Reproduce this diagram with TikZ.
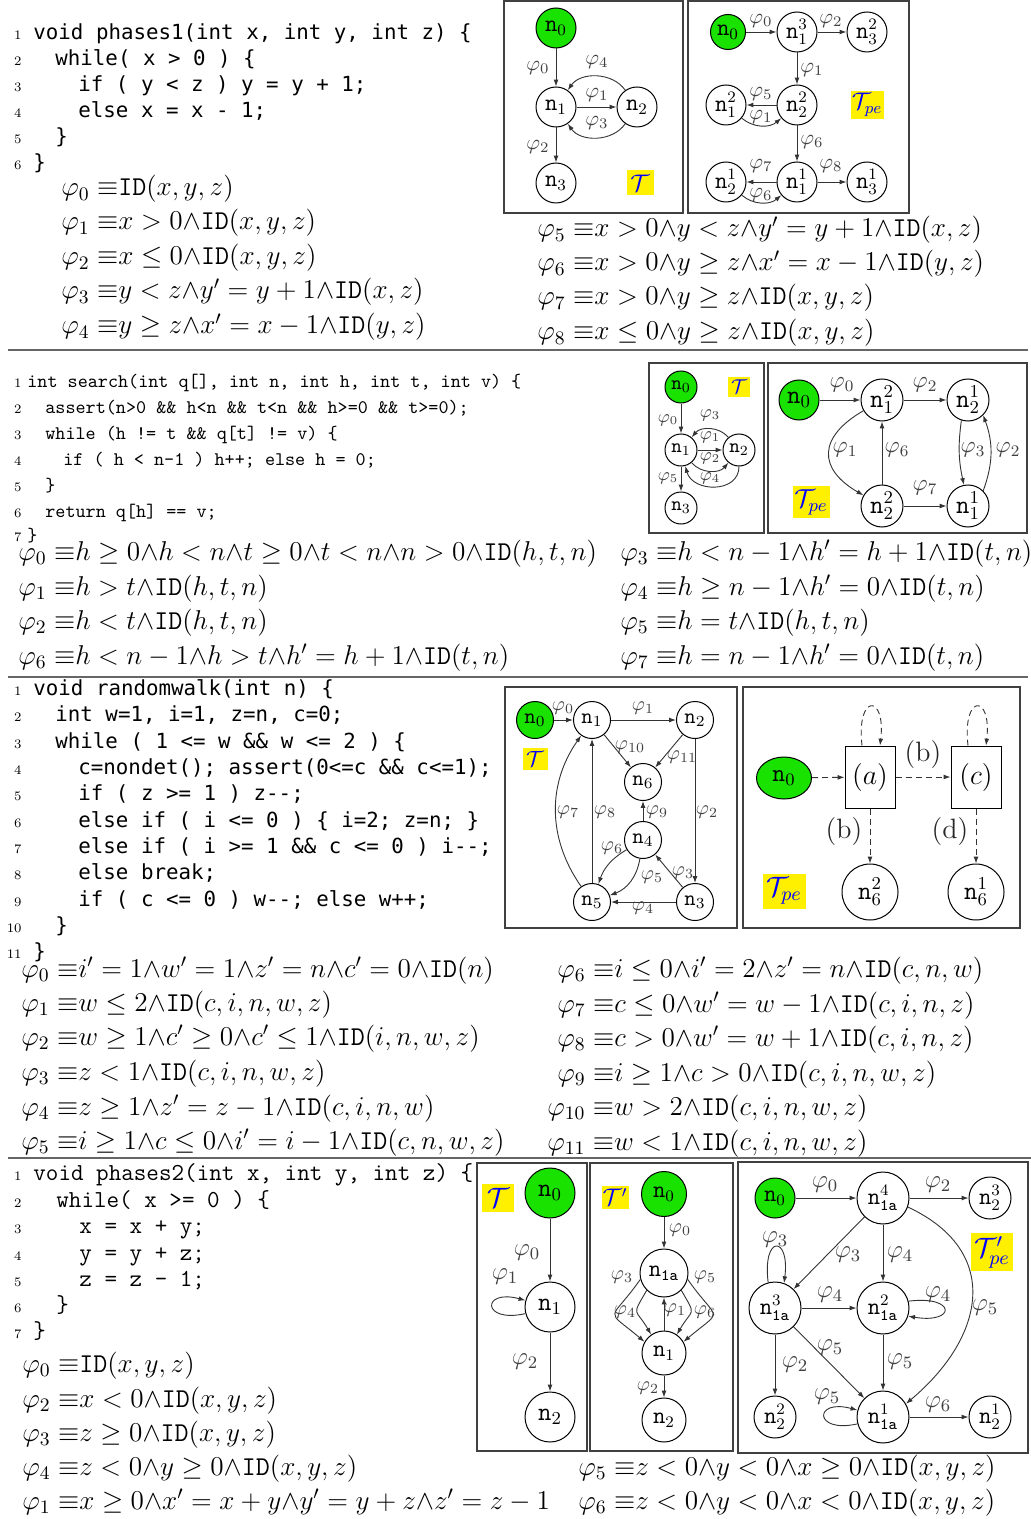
\RequirePackage{fix-cm}
\documentclass[tikz,border=0pt]{standalone}
\usepackage{amsmath}
\usepackage{fontspec}
\usetikzlibrary{arrows.meta,shapes.geometric}
\newfontfamily\dvmono{DejaVu Sans Mono}
\definecolor{ngreen}{RGB}{25,225,0}
\definecolor{lyellow}{RGB}{255,240,0}
\newcommand\myeq{\;{\equiv}}
\newcommand\myand{{\wedge}}
\newcommand\nn[1]{\mathtt{n}_{#1}}
\newcommand\nnn[2]{\mathtt{n}^{#1}_{#2}}
\newcommand\ph[1]{\varphi_{#1}}
\newcommand\IDf{\mathtt{ID}}
\newcommand\cdl[4]{\node[lnum] (ln#2) at (22,#2) {#3}; \node[code] (cl#2) at (#1,#2) {#4};}
\newcommand\fmla[3]{\node[fml] (f#1-#2) at (#1,#2) {$#3$};}
\newcommand\elab[4]{\node[el] (#1) at (#2,#3) {$#4$};}
\tikzset{
  st/.style={circle,draw,line width=0.5pt,inner sep=0pt},
  gf/.style={fill=ngreen},
  tlab/.style={rectangle,fill=lyellow,text=blue,inner sep=0pt},
  el/.style={text=black!75,inner sep=0pt},
  ar/.style={-{Latex[length=3.4pt,width=2.4pt]},line width=0.45pt,draw=black!80},
  dar/.style={ar,dash pattern=on 3pt off 2pt},
  boxfr/.style={draw=black!75,line width=1pt},
  seprule/.style={draw=black!60,line width=1pt},
  lnum/.style={anchor=base east,inner sep=0pt,font=\fontsize{6.5}{7}\selectfont},
  code/.style={anchor=base west,inner sep=0pt},
  fml/.style={anchor=base west,inner sep=0pt,font=\fontsize{13.6}{16}\selectfont},
}
\begin{document}
\begin{tikzpicture}[x=0.5pt,y=-0.5pt]
\fill[white] (0,0) rectangle (1031,1519);
\useasboundingbox (0,0) rectangle (1031,1519);

% separators
\draw[seprule] (8,350) -- (1028,350);
\draw[seprule] (8,677) -- (1028,677);
\draw[seprule] (8,1158) -- (1031,1158);

%================ SECTION 1 =================
\begin{scope}[code/.append style={font=\dvmono\fontsize{10.4}{12}\selectfont}]
\cdl{33}{40}{1}{void phases1(int x, int y, int z) \{}
\cdl{55}{66}{2}{while( x > 0 ) \{}
\cdl{78}{92}{3}{if ( y < z ) y = y + 1;}
\cdl{78}{118}{4}{else x = x - 1;}
\cdl{55}{144}{5}{\}}
\cdl{33}{170}{6}{\}}
\end{scope}
\fmla{61}{196}{\ph0\myeq\IDf(x,y,z)}
\fmla{61}{230}{\ph1\myeq x>0\myand\IDf(x,y,z)}
\fmla{61}{265}{\ph2\myeq x\le 0\myand\IDf(x,y,z)}
\fmla{61}{299}{\ph3\myeq y<z\myand y'=y+1\myand\IDf(x,z)}
\fmla{61}{334}{\ph4\myeq y\ge z\myand x'=x-1\myand\IDf(y,z)}
\fmla{537}{237}{\ph5\myeq x>0\myand y<z\myand y'=y+1\myand\IDf(x,z)}
\fmla{537}{271}{\ph6\myeq x>0\myand y\ge z\myand x'=x-1\myand\IDf(y,z)}
\fmla{537}{305}{\ph7\myeq x>0\myand y\ge z\myand\IDf(x,y,z)}
\fmla{537}{340}{\ph8\myeq x\le 0\myand y\ge z\myand\IDf(x,y,z)}

% S1 T
\begin{scope}[st/.append style={minimum size=20pt,font=\fontsize{12}{14}\selectfont},
  el/.append style={font=\fontsize{10.5}{12}\selectfont}]
\draw[boxfr] (504,1) rectangle (683,213);
\node[st,gf] (a0) at (556,28) {$\nn0$};
\node[st] (a1) at (556,107) {$\nn1$};
\node[st] (a2) at (637,107) {$\nn2$};
\node[st] (a3) at (556,183) {$\nn3$};
\node[tlab,minimum width=13.5pt,minimum height=12.5pt,font=\fontsize{12}{14}\selectfont] (aT) at (640,183) {$\mathcal{T}$};
\draw[ar] (a0)--(a1);
\draw[ar] (a1)--(a2);
\draw[ar] (a2) to[bend right=55] (a1);
\draw[ar] (a2) to[bend left=55] (a1);
\draw[ar] (a1)--(a3);
\elab{la0}{538}{68}{\ph0}
\elab{la4}{597}{62}{\ph4}
\elab{la1}{597}{95}{\ph1}
\elab{la3}{597}{123}{\ph3}
\elab{la2}{538}{147}{\ph2}
\end{scope}

% S1 Tpe
\begin{scope}[st/.append style={minimum size=20pt,font=\fontsize{12}{14}\selectfont},
  el/.append style={font=\fontsize{10.5}{12}\selectfont}]
\draw[boxfr] (688,1) rectangle (909,213);
\node[st,gf,minimum size=17.5pt] (b0) at (728,32) {$\nn0$};
\node[st] (b13) at (797,32) {$\nnn31$};
\node[st] (b32) at (867,32) {$\nnn23$};
\node[st] (b12) at (726,105) {$\nnn21$};
\node[st] (b22) at (797,105) {$\nnn22$};
\node[st] (b21) at (726,182) {$\nnn12$};
\node[st] (b11) at (797,182) {$\nnn11$};
\node[st] (b31) at (867,182) {$\nnn13$};
\node[tlab,minimum width=16.5pt,minimum height=14pt,font=\fontsize{12}{14}\selectfont] (bT) at (867,105) {$\mathcal{T}_{pe}$};
\draw[ar] (b0)--(b13);
\draw[ar] (b13)--(b32);
\draw[ar] (b13)--(b22);
\draw[ar] (b22)--(b12);
\draw[ar] (b12) to[bend right=40] (b22);
\draw[ar] (b22)--(b11);
\draw[ar] (b11)--(b21);
\draw[ar] (b21) to[bend right=40] (b11);
\draw[ar] (b11)--(b31);
\elab{lb0}{761}{21}{\ph0}
\elab{lb2}{831}{21}{\ph2}
\elab{lb1}{812}{70}{\ph1}
\elab{lb5}{761}{94}{\ph5}
\elab{lb1b}{761}{117}{\ph1}
\elab{lb6}{812}{142}{\ph6}
\elab{lb7}{761}{166}{\ph7}
\elab{lb6b}{761}{195}{\ph6}
\elab{lb8}{831}{166}{\ph8}
\end{scope}

%================ SECTION 2 =================
\begin{scope}[code/.append style={font=\ttfamily\fontsize{9.6}{11}\selectfont}]
\cdl{27}{387}{1}{int search(int q[], int n, int h, int t, int v) \{}
\cdl{45}{413}{2}{assert(n>0 \&\& h<n \&\& t<n \&\& h>=0 \&\& t>=0);}
\cdl{45}{439}{3}{while (h != t \&\& q[t] != v) \{}
\cdl{63}{465}{4}{if ( h < n-1 ) h++; else h = 0;}
\cdl{45}{491}{5}{\}}
\cdl{45}{517}{6}{return q[h] == v;}
\cdl{27}{541}{7}{\}}
\end{scope}
\fmla{18}{560}{\ph0\myeq h\ge 0\myand h<n\myand t\ge 0\myand t<n\myand n>0\myand\IDf(h,t,n)}
\fmla{18}{595}{\ph1\myeq h>t\myand\IDf(h,t,n)}
\fmla{18}{629}{\ph2\myeq h<t\myand\IDf(h,t,n)}
\fmla{18}{664}{\ph6\myeq h<n-1\myand h>t\myand h'=h+1\myand\IDf(t,n)}
\fmla{620}{560}{\ph3\myeq h<n-1\myand h'=h+1\myand\IDf(t,n)}
\fmla{620}{595}{\ph4\myeq h\ge n-1\myand h'=0\myand\IDf(t,n)}
\fmla{620}{629}{\ph5\myeq h=t\myand\IDf(h,t,n)}
\fmla{620}{664}{\ph7\myeq h=n-1\myand h'=0\myand\IDf(t,n)}

% S2 T
\begin{scope}[st/.append style={minimum size=16pt,font=\fontsize{10}{12}\selectfont},
  el/.append style={font=\fontsize{9}{11}\selectfont}]
\draw[boxfr] (649,363) rectangle (764,533);
\node[st,gf] (c0) at (681,387) {$\nn0$};
\node[st] (c1) at (681,450) {$\nn1$};
\node[st] (c2) at (739,450) {$\nn2$};
\node[st] (c3) at (681,508) {$\nn3$};
\node[tlab,minimum width=11pt,minimum height=10pt,font=\fontsize{10}{12}\selectfont] (cT) at (739,387) {$\mathcal{T}$};
\draw[ar] (c0)--(c1);
\draw[ar] (c1)--(c2);
\draw[ar] (c2) to[bend right=50] (c1);
\draw[ar] (c1) to[bend right=50] (c2);
\draw[ar] (c2) to[out=-90,in=-75,looseness=1.3] (c1);
\draw[ar] (c1)--(c3);
\elab{lc0}{668}{420}{\ph0}
\elab{lc3}{710}{415}{\ph3}
\elab{lc1}{710}{437}{\ph1}
\elab{lc2}{710}{458}{\ph2}
\elab{lc4}{710}{478}{\ph4}
\elab{lc5}{668}{478}{\ph5}
\end{scope}

% S2 Tpe
\begin{scope}[st/.append style={minimum size=21pt,font=\fontsize{13}{15}\selectfont},
  el/.append style={font=\fontsize{11.5}{13}\selectfont}]
\draw[boxfr] (768,363) rectangle (1027,533);
\node[st,gf,minimum size=20pt] (d0) at (799,400) {$\nn0$};
\node[st] (d12) at (882,400) {$\nnn21$};
\node[st] (d21) at (968,400) {$\nnn12$};
\node[st] (d22) at (882,506) {$\nnn22$};
\node[st] (d11) at (968,506) {$\nnn11$};
\node[tlab,minimum width=18.5pt,minimum height=16pt,font=\fontsize{13}{15}\selectfont] (dT) at (811,502) {$\mathcal{T}_{pe}$};
\draw[ar] (d0)--(d12);
\draw[ar] (d12)--(d21);
\draw[ar] (d12) to[out=-150,in=150,looseness=1.6] (d22);
\draw[ar] (d22)--(d12);
\draw[ar] (d22)--(d11);
\draw[ar] (d21.-108) to[bend right=10] (d11.101);
\draw[ar] (d11.45) to[bend right=20] (d21.-45);
\elab{ld0}{842}{385}{\ph0}
\elab{ld2}{925}{385}{\ph2}
\elab{ld1}{845}{450}{\ph1}
\elab{ld6}{897}{450}{\ph6}
\elab{ld7}{925}{488}{\ph7}
\elab{ld3}{973}{450}{\ph3}
\elab{ld2b}{1008}{450}{\ph2}
\end{scope}

%================ SECTION 3 =================
\begin{scope}[code/.append style={font=\dvmono\fontsize{10.4}{12}\selectfont}]
\cdl{33}{695}{1}{void randomwalk(int n) \{}
\cdl{55}{721}{2}{int w=1, i=1, z=n, c=0;}
\cdl{55}{748}{3}{while ( 1 <= w \&\& w <= 2 ) \{}
\cdl{78}{774}{4}{c=nondet(); assert(0<=c \&\& c<=1);}
\cdl{78}{800}{5}{if ( z >= 1 ) z-{}-;}
\cdl{78}{827}{6}{else if ( i <= 0 ) \{ i=2; z=n; \}}
\cdl{78}{853}{7}{else if ( i >= 1 \&\& c <= 0 ) i-{}-;}
\cdl{78}{879}{8}{else break;}
\cdl{78}{906}{9}{if ( c <= 0 ) w-{}-; else w++;}
\cdl{55}{932}{10}{\}}
\cdl{33}{958}{11}{\}}
\end{scope}
\fmla{21}{977}{\ph0\myeq i'=1\myand w'=1\myand z'=n\myand c'=0\myand\IDf(n)}
\fmla{21}{1011}{\ph1\myeq w\le 2\myand\IDf(c,i,n,w,z)}
\fmla{21}{1045}{\ph2\myeq w\ge 1\myand c'\ge 0\myand c'\le 1\myand\IDf(i,n,w,z)}
\fmla{21}{1080}{\ph3\myeq z<1\myand\IDf(c,i,n,w,z)}
\fmla{21}{1115}{\ph4\myeq z\ge 1\myand z'=z-1\myand\IDf(c,i,n,w)}
\fmla{21}{1149}{\ph5\myeq i\ge 1\myand c\le 0\myand i'=i-1\myand\IDf(c,n,w,z)}
\fmla{557}{977}{\ph6\myeq i\le 0\myand i'=2\myand z'=n\myand\IDf(c,n,w)}
\fmla{557}{1012}{\ph7\myeq c\le 0\myand w'=w-1\myand\IDf(c,i,n,z)}
\fmla{557}{1046}{\ph8\myeq c>0\myand w'=w+1\myand\IDf(c,i,n,z)}
\fmla{557}{1081}{\ph9\myeq i\ge 1\myand c>0\myand\IDf(c,i,n,w,z)}
\fmla{547}{1115}{\ph{10}\myeq w>2\myand\IDf(c,i,n,w,z)}
\fmla{547}{1150}{\ph{11}\myeq w<1\myand\IDf(c,i,n,w,z)}

% S3 T
\begin{scope}[st/.append style={minimum size=18.5pt,font=\fontsize{11}{13}\selectfont},
  el/.append style={font=\fontsize{10}{12}\selectfont}]
\draw[boxfr] (505,687) rectangle (737,928);
\node[st,gf] (e0) at (535,720) {$\nn0$};
\node[st] (e1) at (592,720) {$\nn1$};
\node[st] (e2) at (695,720) {$\nn2$};
\node[st] (e6) at (643,782) {$\nn6$};
\node[st] (e4) at (643,840) {$\nn4$};
\node[st] (e5) at (592,902) {$\nn5$};
\node[st] (e3) at (695,902) {$\nn3$};
\node[tlab,minimum width=12.5pt,minimum height=11pt,font=\fontsize{11}{13}\selectfont] (eT) at (535,759) {$\mathcal{T}$};
\draw[ar] (e0)--(e1);
\draw[ar] (e1)--(e2);
\draw[ar] (e1)--(e6);
\draw[ar] (e2)--(e6);
\draw[ar] (e2)--(e3);
\draw[ar] (e3)--(e4);
\draw[ar] (e3)--(e5);
\draw[ar] (e4)--(e6);
\draw[ar] (e4) to[bend right=20] (e5);
\draw[ar] (e4) to[bend left=30] (e5);
\draw[ar] (e5)--(e1);
\draw[ar] (e5) to[bend left=35] (e1);
\elab{le0}{563}{708}{\ph0}
\elab{le1}{643}{708}{\ph1}
\elab{le10}{630}{747}{\ph{10}}
\elab{le11}{682}{757}{\ph{11}}
\elab{le2}{707}{812}{\ph2}
\elab{le3}{683}{873}{\ph3}
\elab{le4}{643}{908}{\ph4}
\elab{le9}{657}{812}{\ph9}
\elab{le6}{612}{848}{\ph6}
\elab{le5}{652}{877}{\ph5}
\elab{le8}{605}{812}{\ph8}
\elab{le7}{568}{812}{\ph7}
\end{scope}

% S3 Tpe
\begin{scope}[st/.append style={minimum size=28pt,font=\fontsize{13}{15}\selectfont}]
\draw[boxfr] (743,687) rectangle (1020,928);
\node[ellipse,draw,gf,line width=0.5pt,inner sep=0pt,minimum width=27.5pt,minimum height=21pt,font=\fontsize{12.5}{14}\selectfont] (f0) at (784,778) {$\nn0$};
\node[rectangle,draw,line width=0.5pt,minimum width=25pt,minimum height=31pt,font=\fontsize{14}{16}\selectfont] (fa) at (870,777) {$(a)$};
\node[rectangle,draw,line width=0.5pt,minimum width=25pt,minimum height=31pt,font=\fontsize{14}{16}\selectfont] (fc) at (976,777) {$(c)$};
\node[st] (f62) at (870,892) {$\nnn26$};
\node[st] (f61) at (976,892) {$\nnn16$};
\node[tlab,minimum width=21.5pt,minimum height=17.5pt,font=\fontsize{14}{16}\selectfont] (fT) at (784,891) {$\mathcal{T}_{pe}$};
\draw[dar] (f0)--(fa);
\draw[dar] (fa)--(fc);
\draw[dar] (fa)--(f62);
\draw[dar] (fc)--(f61);
\draw[dar] ([xshift=-4pt]fa.north) .. controls +(-3pt,26pt) and +(3pt,26pt) .. ([xshift=5pt]fa.north);
\draw[dar] ([xshift=-4pt]fc.north) .. controls +(-3pt,26pt) and +(3pt,26pt) .. ([xshift=5pt]fc.north);
\node[el,text=black!85,font=\fontsize{14}{16}\selectfont] (lfb1) at (923,755) {(b)};
\node[el,text=black!85,font=\fontsize{14}{16}\selectfont] (lfb2) at (844,832) {(b)};
\node[el,text=black!85,font=\fontsize{14}{16}\selectfont] (lfd) at (950,832) {(d)};
\end{scope}

%================ SECTION 4 =================
\begin{scope}[code/.append style={font=\ttfamily\fontsize{12.2}{14}\selectfont}]
\cdl{33}{1180}{1}{void phases2(int x, int y, int z) \{}
\cdl{56}{1207}{2}{while( x >= 0 ) \{}
\cdl{79}{1233}{3}{x = x + y;}
\cdl{79}{1260}{4}{y = y + z;}
\cdl{79}{1286}{5}{z = z - 1;}
\cdl{56}{1312}{6}{\}}
\cdl{33}{1338}{7}{\}}
\end{scope}
\fmla{22}{1372}{\ph0\myeq\IDf(x,y,z)}
\fmla{22}{1407}{\ph2\myeq x<0\myand\IDf(x,y,z)}
\fmla{22}{1441}{\ph3\myeq z\ge 0\myand\IDf(x,y,z)}
\fmla{22}{1475}{\ph4\myeq z<0\myand y\ge 0\myand\IDf(x,y,z)}
\fmla{22}{1509}{\ph1\myeq x\ge 0\myand x'=x+y\myand y'=y+z\myand z'=z-1}
\fmla{578}{1475}{\ph5\myeq z<0\myand y<0\myand x\ge 0\myand\IDf(x,y,z)}
\fmla{578}{1509}{\ph6\myeq z<0\myand y<0\myand x<0\myand\IDf(x,y,z)}

% S4 T
\begin{scope}[st/.append style={minimum size=25pt,font=\fontsize{13}{15}\selectfont},
  el/.append style={font=\fontsize{12.5}{14}\selectfont}]
\draw[boxfr] (477,1163) rectangle (587,1451);
\node[st,gf] (g0) at (550,1193) {$\nn0$};
\node[st] (g1) at (550,1307) {$\nn1$};
\node[st] (g2) at (550,1417) {$\nn2$};
\node[tlab,minimum width=16pt,minimum height=14pt,font=\fontsize{14}{16}\selectfont] (gT) at (498,1198) {$\mathcal{T}$};
\draw[ar] (g0)--(g1);
\draw[ar] (g1.195) .. controls +(-22pt,-5pt) and +(-22pt,6pt) .. (g1.165);
\draw[ar] (g1)--(g2);
\elab{lg0}{527}{1253}{\ph0}
\elab{lg1}{505}{1277}{\ph1}
\elab{lg2}{525}{1362}{\ph2}
\end{scope}

% S4 T'
\begin{scope}[st/.append style={minimum size=22pt,font=\fontsize{12}{14}\selectfont},
  el/.append style={font=\fontsize{10}{12}\selectfont}]
\draw[boxfr] (590,1163) rectangle (733,1451);
\node[st,gf,minimum size=22.5pt] (h0) at (664,1194) {$\nn0$};
\node[st,minimum size=24pt] (h1a) at (664,1273) {$\nn{\mathtt{1a}}$};
\node[st] (h1) at (664,1353) {$\nn1$};
\node[st] (h2) at (664,1420) {$\nn2$};
\node[tlab,minimum width=13.5pt,minimum height=11.5pt,font=\fontsize{12}{14}\selectfont] (hT) at (615,1197) {$\mathcal{T}'$};
\draw[ar] (h0)--(h1a);
\draw[ar] (h1)--(h1a);
\draw[ar] (h1a.195) to[out=235,in=140,looseness=2.2] (h1.150);
\draw[ar] (h1a.225) to[out=240,in=120,looseness=1.8] (h1.125);
\draw[ar] (h1a.-15) to[out=-55,in=40,looseness=2.2] (h1.30);
\draw[ar] (h1a.-45) to[out=-60,in=60,looseness=1.8] (h1.55);
\draw[ar] (h1)--(h2);
\elab{lh0}{680}{1230}{\ph0}
\elab{lh3}{622}{1277}{\ph3}
\elab{lh4}{625}{1312}{\ph4}
\elab{lh5}{705}{1277}{\ph5}
\elab{lh6}{705}{1312}{\ph6}
\elab{lh1}{675}{1310}{\ph1}
\elab{lh2}{648}{1388}{\ph2}
\end{scope}

% S4 Tpe'
\begin{scope}[st/.append style={minimum size=26pt,font=\fontsize{12}{14}\selectfont},
  el/.append style={font=\fontsize{12.5}{14}\selectfont}]
\draw[boxfr] (738,1162) rectangle (1028,1453);
\node[st,gf,minimum size=20pt] (i0) at (775,1198) {$\nn0$};
\node[st] (i14) at (883,1198) {$\nnn4{\mathtt{1a}}$};
\node[st,minimum size=21pt] (i23) at (990,1198) {$\nnn32$};
\node[st] (i13) at (775,1308) {$\nnn3{\mathtt{1a}}$};
\node[st] (i12) at (883,1308) {$\nnn2{\mathtt{1a}}$};
\node[st,minimum size=21pt] (i22) at (775,1417) {$\nnn22$};
\node[st] (i11) at (883,1417) {$\nnn1{\mathtt{1a}}$};
\node[st,minimum size=21pt] (i21) at (990,1417) {$\nnn12$};
\node[tlab,minimum width=21pt,minimum height=19pt,font=\fontsize{14}{16}\selectfont] (iT) at (992,1252) {$\mathcal{T}'_{pe}$};
\draw[ar] (i0)--(i14);
\draw[ar] (i14)--(i23);
\draw[ar] (i14)--(i13);
\draw[ar] (i14)--(i12);
\draw[ar] (i14.-20) to[out=-25,in=40,looseness=1.35] (i11.30);
\draw[ar] (i13.105) .. controls +(-3pt,24pt) and +(3pt,24pt) .. (i13.70);
\draw[ar] (i13)--(i12);
\draw[ar] (i12.15) .. controls +(24pt,3pt) and +(24pt,-4pt) .. (i12.-18);
\draw[ar] (i12)--(i11);
\draw[ar] (i13)--(i22);
\draw[ar] (i13)--(i11);
\draw[ar] (i11.195) .. controls +(-22pt,-5pt) and +(-22pt,6pt) .. (i11.165);
\draw[ar] (i11)--(i21);
\elab{li0}{825}{1185}{\ph0}
\elab{li2}{938}{1185}{\ph2}
\elab{li3}{848}{1255}{\ph3}
\elab{li4}{900}{1255}{\ph4}
\elab{li5}{985}{1308}{\ph5}
\elab{li3b}{775}{1240}{\ph3}
\elab{li4b}{830}{1295}{\ph4}
\elab{li4c}{938}{1295}{\ph4}
\elab{li5b}{900}{1362}{\ph5}
\elab{li2b}{795}{1365}{\ph2}
\elab{li5c}{830}{1348}{\ph5}
\elab{li5d}{827}{1397}{\ph5}
\elab{li6}{938}{1405}{\ph6}
\end{scope}
\end{tikzpicture}
\end{document}
